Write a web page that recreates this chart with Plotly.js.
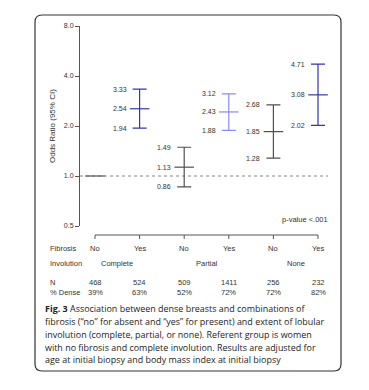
<!DOCTYPE html>
<html><head><meta charset="utf-8">
<script src="https://cdn.plot.ly/plotly-3.0.1.min.js"></script>
<style>html,body{margin:0;padding:0;background:#fff;}#chart{width:369px;height:390px;}</style>
</head><body><div id="chart"></div>
<script>
// Data
var positions = [1, 2, 3, 4, 5, 6];
var fibrosis = ['No', 'Yes', 'No', 'Yes', 'No', 'Yes'];
var involution = ['Complete', 'Partial', 'None'];
var involutionPos = [1.5, 3.5, 5.5];
var oddsRatio = [1.00, 2.54, 1.13, 2.43, 1.85, 3.08];
var ciLow = [1.00, 1.94, 0.86, 1.88, 1.28, 2.02];
var ciHigh = [1.00, 3.33, 1.49, 3.12, 2.68, 4.71];
var nCounts = ['468', '524', '509', '1411', '256', '232'];
var pctDense = ['39%', '63%', '52%', '72%', '72%', '82%'];
var yTickVals = [0.5, 1, 2, 4, 8];
var yTickText = ['0.5', '1.0', '2.0', '4.0', '8.0'];
var captionLines = [
  '<b>Fig. 3</b> Association between dense breasts and combinations of',
  'fibrosis (“no” for absent and “yes” for present) and extent of lobular',
  'involution (complete, partial, or none). Referent group is women',
  'with no fibrosis and complete involution. Results are adjusted for',
  'age at initial biopsy and body mass index at initial biopsy'
];

var colors = ['#505050', '#3535b0', '#505050', '#8a8aee', '#505050', '#3535b0'];

// pixel helpers (plot area: x 80..330, y 26..226)
var L = 80, R = 330, T = 26, B = 226;
function px(X) { return (X - L) / (R - L); }
function py(Y) { return (B - Y) / (B - T); }

var font = 'Liberation Sans, Arial, sans-serif';
var traces = [];
for (var i = 0; i < positions.length; i++) {
  var hasCI = ciHigh[i] !== ciLow[i];
  traces.push({
    type: 'scatter', mode: 'markers',
    x: [positions[i]], y: [oddsRatio[i]],
    marker: {symbol: 'line-ew', size: 14, line: {color: colors[i], width: 1.2}},
    error_y: hasCI ? {type: 'data', symmetric: false,
      array: [ciHigh[i] - oddsRatio[i]], arrayminus: [oddsRatio[i] - ciLow[i]],
      color: colors[i], thickness: 1.2, width: 7} : {visible: false},
    showlegend: false, hoverinfo: 'skip', cliponaxis: false
  });
}

var ann = [];
function fmt(v) { return v.toFixed(2); }
for (var i = 0; i < positions.length; i++) {
  if (ciHigh[i] === ciLow[i]) continue;
  [ciHigh[i], oddsRatio[i], ciLow[i]].forEach(function (v) {
    ann.push({x: positions[i], y: Math.log10(v), xref: 'x', yref: 'y', text: fmt(v),
      showarrow: false, xanchor: 'right', yanchor: 'middle', xshift: -11,
      font: {family: font, size: 7, color: '#333'}});
  });
}
ann.push({x: px(330), y: py(219), xref: 'paper', yref: 'paper', text: 'p-value <.001',
  showarrow: false, xanchor: 'right', yanchor: 'middle', font: {family: font, size: 7.5, color: '#333'}});
ann.push({x: px(52), y: 0.5, xref: 'paper', yref: 'paper', text: 'Odds Ratio (95% CI)', textangle: -90,
  showarrow: false, xanchor: 'center', yanchor: 'middle', font: {family: font, size: 8, color: '#333'}});

var rowY = {fib: 248, inv: 263, n: 282, dense: 292};
var rowLabels = [['Fibrosis', rowY.fib], ['Involution', rowY.inv], ['N', rowY.n], ['% Dense', rowY.dense]];
rowLabels.forEach(function (r) {
  ann.push({x: px(48), y: py(r[1]), xref: 'paper', yref: 'paper', text: r[0], showarrow: false,
    xanchor: 'left', yanchor: 'middle', font: {family: font, size: 7.5, color: '#333'}});
});
for (var i = 0; i < positions.length; i++) {
  [[fibrosis[i], rowY.fib], [nCounts[i], rowY.n], [pctDense[i], rowY.dense]].forEach(function (c) {
    ann.push({x: positions[i], y: py(c[1]), xref: 'x', yref: 'paper', text: c[0], showarrow: false,
      xanchor: 'center', yanchor: 'middle', font: {family: font, size: 7.5, color: '#333'}});
  });
}
for (var j = 0; j < involution.length; j++) {
  ann.push({x: involutionPos[j], y: py(rowY.inv), xref: 'x', yref: 'paper', text: involution[j],
    showarrow: false, xanchor: 'center', yanchor: 'middle', font: {family: font, size: 7.5, color: '#333'}});
}
var capY = [308, 321, 334, 347, 359];
captionLines.forEach(function (t, k) {
  ann.push({x: px(43), y: py(capY[k]), xref: 'paper', yref: 'paper', text: t, showarrow: false,
    xanchor: 'left', yanchor: 'middle', align: 'left', font: {family: 'Open Sans, sans-serif', size: 8.95, color: '#222'}});
});

// shapes
var shapes = [];
shapes.push({type: 'line', xref: 'paper', yref: 'y', x0: 0, x1: px(328), y0: 1, y1: 1,
  line: {color: '#666', width: 0.8, dash: 'dot'}});
shapes.push({type: 'line', xref: 'x', yref: 'paper', x0: positions[0], x1: positions[positions.length - 1],
  y0: py(235), y1: py(235), line: {color: '#555', width: 1}});
positions.forEach(function (p) {
  shapes.push({type: 'line', xref: 'x', yref: 'paper', x0: p, x1: p, y0: py(235), y1: py(239),
    line: {color: '#555', width: 1}});
});
// rounded border
var bx0 = 35, bx1 = 341, by0 = 15, by1 = 371, r = 7;
function P(X, Y) { return px(X).toFixed(4) + ',' + py(Y).toFixed(4); }
var path = 'M' + P(bx0 + r, by0) + ' L' + P(bx1 - r, by0) + ' Q' + P(bx1, by0) + ' ' + P(bx1, by0 + r) +
  ' L' + P(bx1, by1 - r) + ' Q' + P(bx1, by1) + ' ' + P(bx1 - r, by1) +
  ' L' + P(bx0 + r, by1) + ' Q' + P(bx0, by1) + ' ' + P(bx0, by1 - r) +
  ' L' + P(bx0, by0 + r) + ' Q' + P(bx0, by0) + ' ' + P(bx0 + r, by0) + ' Z';
shapes.push({type: 'path', xref: 'paper', yref: 'paper', path: path, line: {color: '#333', width: 1.2}});

var xr0 = 1 - (95 - L) / ((318 - 95) / 5);
var xr1 = 6 + (R - 318) / ((318 - 95) / 5);

var layout = {
  width: 369, height: 390,
  margin: {l: L, r: 369 - R, t: T, b: 390 - B, pad: 0},
  paper_bgcolor: '#fff', plot_bgcolor: '#fff',
  showlegend: false,
  xaxis: {range: [xr0, xr1], visible: false, fixedrange: true},
  yaxis: {type: 'log', range: [Math.log10(0.5), Math.log10(8)], tickvals: yTickVals, ticktext: yTickText,
    ticks: 'outside', ticklen: 4, tickcolor: '#555', tickwidth: 1, showline: true, linecolor: '#555', linewidth: 1,
    showgrid: false, zeroline: false, tickfont: {family: font, size: 7, color: '#333'},
    automargin: false, fixedrange: true},
  annotations: ann,
  shapes: shapes
};
Plotly.newPlot('chart', traces, layout, {staticPlot: true, displayModeBar: false});
</script></body></html>
